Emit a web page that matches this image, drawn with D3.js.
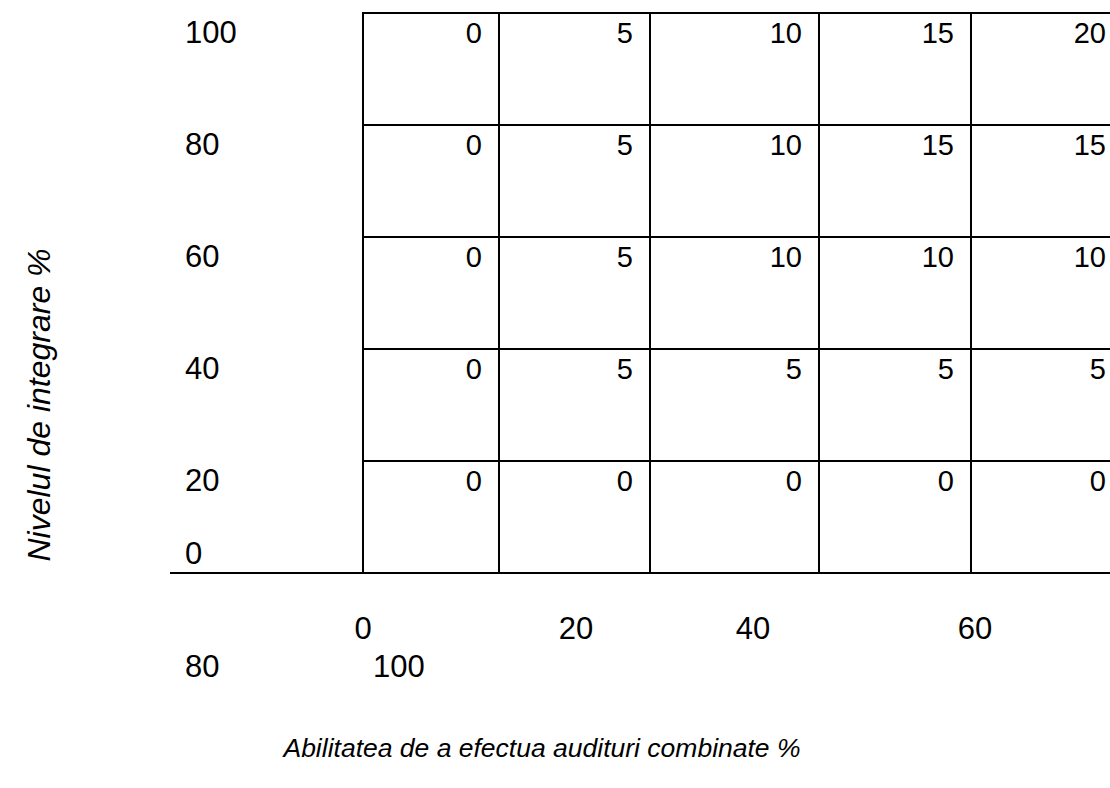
<!DOCTYPE html>
<html>
<head>
<meta charset="utf-8">
<script src="https://cdn.jsdelivr.net/npm/d3@7"></script>
<style>
  html, body { margin: 0; padding: 0; background: #fff; }
  svg text { font-family: "Liberation Sans", Arial, sans-serif; fill: #000; }
</style>
</head>
<body>
<svg id="chart" width="1110" height="788"></svg>
<script>
// ---- data ----
const rowLevels = [100, 80, 60, 40, 20];          // Nivelul de integrare %
const yTickLabels = ["100", "80", "60", "40", "20", "0"];
const xTickLabels = ["0", "20", "40", "60", "80", "100"];
const cellValues = [
  [0, 5, 10, 15, 20],
  [0, 5, 10, 15, 15],
  [0, 5, 10, 10, 10],
  [0, 5, 5, 5, 5],
  [0, 0, 0, 0, 0]
];
const yTitle = "Nivelul de integrare %";
const xTitle = "Abilitatea de a efectua audituri combinate %";

// ---- layout ----
const W = 1110, H = 788;
const svg = d3.select("#chart");
const y = d3.scaleLinear().domain([0, 100]).range([573, 13]);
const col = d3.scaleLinear().domain([0, 1, 2, 3, 4, 5]).range([363, 499, 650, 819, 971, 1123]);
const fsCell = 29, fsTick = 31;

const g = svg.append("g");

// horizontal lines
g.selectAll("line.h").data(rowLevels).join("line")
  .attr("x1", col(0)).attr("x2", W)
  .attr("y1", d => y(d)).attr("y2", d => y(d))
  .attr("stroke", "#000").attr("stroke-width", 2);
// baseline
g.append("line").attr("x1", 170).attr("x2", W)
  .attr("y1", y(0)).attr("y2", y(0))
  .attr("stroke", "#000").attr("stroke-width", 2);
// vertical lines
g.selectAll("line.v").data(d3.range(0, 5)).join("line")
  .attr("x1", d => col(d)).attr("x2", d => col(d))
  .attr("y1", y(100) - 1).attr("y2", y(0) + 1)
  .attr("stroke", "#000").attr("stroke-width", 2);

// cell values
rowLevels.forEach((lvl, r) => {
  g.selectAll(null).data(cellValues[r]).join("text")
    .attr("x", (d, i) => col(i + 1) - 17)
    .attr("y", y(lvl) + 30)
    .attr("text-anchor", "end")
    .attr("font-size", fsCell)
    .text(d => d);
});

// y tick labels
g.selectAll("text.yt").data(yTickLabels).join("text")
  .attr("x", 185)
  .attr("y", d => +d === 0 ? y(0) - 9 : y(+d) + 30)
  .attr("font-size", fsTick)
  .text(d => d);

// x tick labels (wrapped as in reference)
const xPos = [
  {x: 363, y: 639, a: "middle"},
  {x: 576, y: 639, a: "middle"},
  {x: 753, y: 639, a: "middle"},
  {x: 975, y: 639, a: "middle"},
  {x: 185, y: 677, a: "start"},
  {x: 373, y: 677, a: "start"}
];
g.selectAll("text.xt").data(xTickLabels).join("text")
  .attr("x", (d, i) => xPos[i].x)
  .attr("y", (d, i) => xPos[i].y)
  .attr("text-anchor", (d, i) => xPos[i].a)
  .attr("font-size", fsTick)
  .text(d => d);

// titles
svg.append("text")
  .attr("transform", "translate(50,405) rotate(-90)")
  .attr("text-anchor", "middle")
  .attr("font-size", 32)
  .attr("font-style", "italic")
  .text(yTitle);
svg.append("text")
  .attr("x", 542).attr("y", 757)
  .attr("text-anchor", "middle")
  .attr("font-size", 26.5)
  .attr("font-style", "italic")
  .text(xTitle);
</script>
</body>
</html>
